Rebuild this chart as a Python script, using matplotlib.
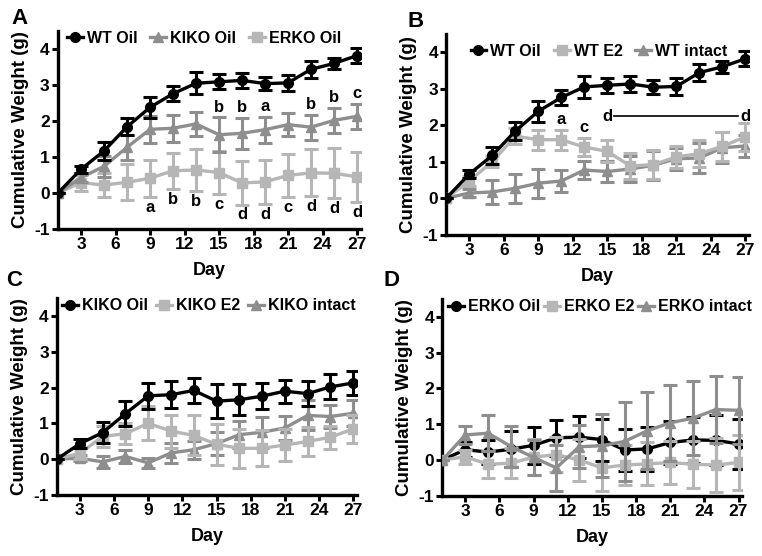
import matplotlib
matplotlib.use("Agg")
import matplotlib.pyplot as plt

plt.rcParams['font.family'] = ['Liberation Sans', 'DejaVu Sans']
plt.rcParams['font.weight'] = 'bold'
plt.rcParams['axes.unicode_minus'] = False

days = [1, 3, 5, 7, 9, 11, 13, 15, 17, 19, 21, 23, 25, 27]

# WT
wt_oil = [0, 0.66, 1.17, 1.84, 2.38, 2.76, 3.05, 3.09, 3.13, 3.04, 3.06, 3.44, 3.6, 3.82]
wt_oil_err = [0, 0.1, 0.24, 0.24, 0.29, 0.21, 0.3, 0.21, 0.21, 0.19, 0.23, 0.23, 0.16, 0.2]
wt_e2 = [0, 0.47, 1.0, 1.7, 1.6, 1.6, 1.4, 1.28, 0.88, 0.92, 1.13, 1.22, 1.42, 1.68]
wt_e2_err = [0, 0.15, 0.15, 0.23, 0.27, 0.27, 0.25, 0.3, 0.35, 0.4, 0.3, 0.38, 0.4, 0.38]
wt_intact = [0, 0.14, 0.17, 0.27, 0.41, 0.47, 0.77, 0.73, 0.8, 0.9, 1.08, 1.1, 1.38, 1.43]
wt_intact_err = [0, 0.12, 0.32, 0.4, 0.4, 0.3, 0.24, 0.28, 0.35, 0.4, 0.3, 0.4, 0.42, 0.3]

# KIKO
kiko_oil = [0, 0.43, 0.74, 1.27, 1.77, 1.8, 1.92, 1.62, 1.66, 1.76, 1.9, 1.83, 2.02, 2.13]
kiko_oil_err = [0, 0.12, 0.3, 0.35, 0.37, 0.38, 0.34, 0.48, 0.43, 0.36, 0.32, 0.35, 0.35, 0.34]
kiko_e2 = [0, 0.16, 0.63, 0.71, 1.0, 0.78, 0.66, 0.41, 0.3, 0.3, 0.39, 0.49, 0.61, 0.84]
kiko_e2_err = [0, 0.15, 0.3, 0.3, 0.48, 0.46, 0.56, 0.57, 0.55, 0.5, 0.45, 0.4, 0.32, 0.38]
kiko_intact = [0, 0.02, -0.08, 0.07, -0.11, 0.17, 0.26, 0.43, 0.68, 0.75, 0.87, 1.22, 1.19, 1.28]
kiko_intact_err = [0, 0.08, 0.17, 0.17, 0.15, 0.28, 0.25, 0.33, 0.37, 0.43, 0.33, 0.42, 0.32, 0.37]

# ERKO
erko_oil = [0, 0.29, 0.22, 0.3, 0.41, 0.62, 0.64, 0.57, 0.28, 0.31, 0.49, 0.56, 0.55, 0.45]
erko_oil_err = [0, 0.22, 0.33, 0.5, 0.52, 0.5, 0.58, 0.59, 0.6, 0.62, 0.6, 0.65, 0.7, 0.7]
erko_e2 = [0, 0.09, -0.12, -0.09, 0.08, 0.15, 0.0, -0.22, -0.14, -0.11, -0.07, -0.12, -0.14, -0.07]
erko_e2_err = [0, 0.2, 0.38, 0.42, 0.5, 0.5, 0.6, 0.65, 0.57, 0.6, 0.6, 0.65, 0.75, 0.78]
erko_intact = [0, 0.7, 0.75, 0.38, 0.07, -0.22, 0.37, 0.4, 0.52, 0.82, 1.04, 1.17, 1.41, 1.39]
erko_intact_err = [0, 0.26, 0.5, 0.58, 0.5, 0.65, 0.6, 0.88, 1.1, 1.07, 1.06, 1.03, 0.93, 0.93]

# letters panel A
kiko_letters = ['', '', '', '', '', '', '', 'b', 'b', 'a', '', 'b', 'b', 'c']
erko_letters = ['', '', '', '', 'a', 'b', 'b', 'c', 'd', 'd', 'c', 'd', 'd', 'd']

BLACK = '#000000'
MID = '#8e8e8e'
LIGHT = '#b6b6b6'

fig = plt.figure(figsize=(7.62, 5.56), dpi=100)


def draw_series(ax, y, err, color, marker, label, z):
    ax.errorbar(days, y, yerr=err, fmt='none', ecolor=color, elinewidth=2.2,
                capsize=5, capthick=2.2, zorder=z)
    line, = ax.plot(days, y, color=color, marker=marker, ms=7, lw=2.4,
                    label=label, zorder=z + 0.5)
    return line


def style_axes(ax):
    ax.set_xlim(1, 27.3)
    ax.set_ylim(-1, 4.5)
    ax.set_xticks(range(3, 28, 3))
    ax.set_yticks(range(-1, 5))
    for s in ['top', 'right']:
        ax.spines[s].set_visible(False)
    for s in ['left', 'bottom']:
        ax.spines[s].set_linewidth(2.4)
    ax.tick_params(width=2.2, length=4, labelsize=12.5, pad=2)
    for lab in ax.get_xticklabels() + ax.get_yticklabels():
        lab.set_fontweight('bold')
    ax.set_xlabel('Day', fontsize=13, fontweight='bold', labelpad=7)
    ax.set_ylabel('Cumulative Weight (g)', fontsize=13.5, fontweight='bold', labelpad=4)


def add_legend(ax, handles, x0, y0, cs):
    ax.legend(handles=handles, loc='upper left', bbox_to_anchor=(x0, y0),
              ncol=3, frameon=False, handlelength=1.0,
              handletextpad=0.25, columnspacing=cs, borderaxespad=0.0,
              borderpad=0.0, prop={'weight': 'bold', 'size': 11.5})


# Panel A
axA = fig.add_axes([0.0761, 0.5881, 0.397, 0.356])
h1 = draw_series(axA, erko_oil, erko_oil_err, LIGHT, 's', 'ERKO Oil', 2)
h2 = draw_series(axA, kiko_oil, kiko_oil_err, MID, '^', 'KIKO Oil', 3)
h3 = draw_series(axA, wt_oil, wt_oil_err, BLACK, 'o', 'WT Oil', 4)
style_axes(axA)
add_legend(axA, [h3, h2, h1], 0.03, 1.0, 0.8)
for d, v, e, t in zip(days, kiko_oil, kiko_oil_err, kiko_letters):
    if t:
        axA.text(d, v + e + 0.08, t, ha='center', va='bottom', fontsize=12, fontweight='bold')
for d, v, e, t in zip(days, erko_oil, erko_oil_err, erko_letters):
    if t:
        axA.text(d, v - e - 0.08, t, ha='center', va='top', fontsize=12, fontweight='bold')

# Panel B
axB = fig.add_axes([0.5857, 0.578, 0.397, 0.361])
h2 = draw_series(axB, wt_intact, wt_intact_err, MID, '^', 'WT intact', 2)
h1 = draw_series(axB, wt_e2, wt_e2_err, LIGHT, 's', 'WT E2', 3)
h3 = draw_series(axB, wt_oil, wt_oil_err, BLACK, 'o', 'WT Oil', 4)
style_axes(axB)
add_legend(axB, [h3, h1, h2], 0.08, 0.95, 0.8)
axB.text(11, wt_e2[5] + wt_e2_err[5] + 0.08, 'a', ha='center', va='bottom', fontsize=12, fontweight='bold')
axB.text(13, wt_e2[6] + wt_e2_err[6] + 0.08, 'c', ha='center', va='bottom', fontsize=12, fontweight='bold')
axB.text(15, 2.25, 'd', ha='center', va='center', fontsize=12, fontweight='bold')
axB.text(27, 2.25, 'd', ha='center', va='center', fontsize=12, fontweight='bold')
axB.plot([15.6, 26.4], [2.25, 2.25], color='black', lw=1.2)

# Panel C
axC = fig.add_axes([0.075, 0.1103, 0.393, 0.3531])
h2 = draw_series(axC, kiko_intact, kiko_intact_err, MID, '^', 'KIKO intact', 2)
h1 = draw_series(axC, kiko_e2, kiko_e2_err, LIGHT, 's', 'KIKO E2', 3)
h3 = draw_series(axC, kiko_oil, kiko_oil_err, BLACK, 'o', 'KIKO Oil', 4)
style_axes(axC)
add_legend(axC, [h3, h1, h2], 0.015, 1.0, 0.5)

# Panel D
axD = fig.add_axes([0.5807, 0.1084, 0.393, 0.3536])
h3 = draw_series(axD, erko_oil, erko_oil_err, BLACK, 'o', 'ERKO Oil', 2)
h1 = draw_series(axD, erko_e2, erko_e2_err, LIGHT, 's', 'ERKO E2', 3)
h2 = draw_series(axD, erko_intact, erko_intact_err, MID, '^', 'ERKO intact', 4)
style_axes(axD)
add_legend(axD, [h3, h1, h2], 0.02, 1.0, 0.2)

for lab, x, y in [('A', 0.015, 0.985), ('B', 0.535, 0.98), ('C', 0.008, 0.515), ('D', 0.503, 0.515)]:
    fig.text(x, y, lab, fontsize=16, fontweight='bold', ha='left', va='top')

fig.savefig('out.png', dpi=100)
